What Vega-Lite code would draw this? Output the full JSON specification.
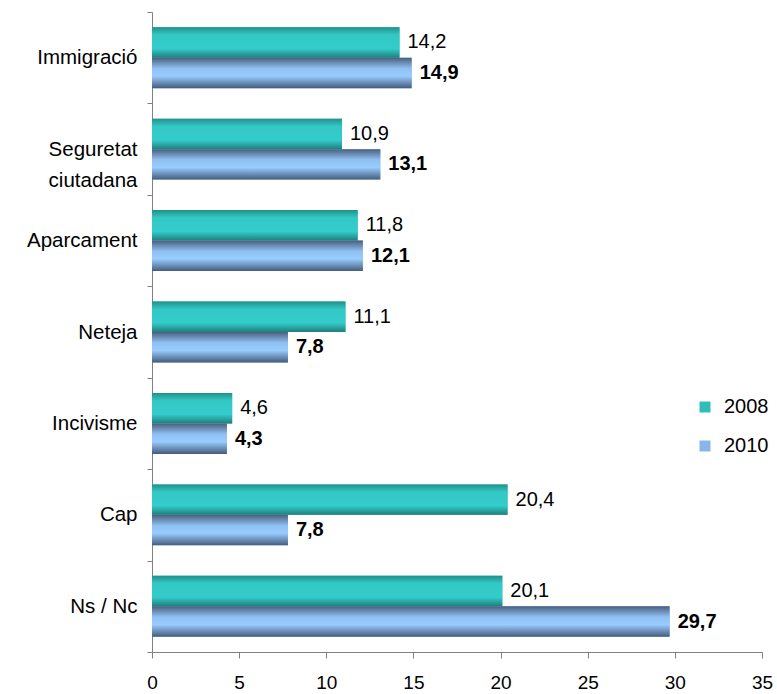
{
  "$schema": "https://vega.github.io/schema/vega-lite/v6.json",
  "width": 610,
  "height": 640,
  "autosize": {"type": "none"},
  "padding": {"left": 152, "top": 12, "right": 15, "bottom": 42},
  "background": "white",
  "config": {
    "font": "Liberation Sans",
    "view": {"stroke": null},
    "locale": {"number": {"decimal": ",", "thousands": ".", "grouping": [3], "currency": ["", " €"]}}
  },
  "data": {
    "values": [
      {"tema": "Immigració", "any": "2008", "valor": 14.2},
      {"tema": "Immigració", "any": "2010", "valor": 14.9},
      {"tema": "Seguretat ciutadana", "any": "2008", "valor": 10.9},
      {"tema": "Seguretat ciutadana", "any": "2010", "valor": 13.1},
      {"tema": "Aparcament", "any": "2008", "valor": 11.8},
      {"tema": "Aparcament", "any": "2010", "valor": 12.1},
      {"tema": "Neteja", "any": "2008", "valor": 11.1},
      {"tema": "Neteja", "any": "2010", "valor": 7.8},
      {"tema": "Incivisme", "any": "2008", "valor": 4.6},
      {"tema": "Incivisme", "any": "2010", "valor": 4.3},
      {"tema": "Cap", "any": "2008", "valor": 20.4},
      {"tema": "Cap", "any": "2010", "valor": 7.8},
      {"tema": "Ns / Nc", "any": "2008", "valor": 20.1},
      {"tema": "Ns / Nc", "any": "2010", "valor": 29.7}
    ]
  },
  "encoding": {
    "y": {
      "field": "tema",
      "type": "nominal",
      "sort": null,
      "scale": {"paddingInner": 0, "paddingOuter": 0},
      "axis": {
        "title": null,
        "tickBand": "extent",
        "tickSize": 5,
        "tickColor": "#808080",
        "domainColor": "#808080",
        "labelFontSize": 20.5,
        "labelColor": "black",
        "labelPadding": 10,
        "labelLineHeight": 31,
        "labelExpr": "datum.value == 'Seguretat ciutadana' ? ['Seguretat', 'ciutadana'] : (datum.value == 'Ns / Nc' ? 'Ns / Nc\u2002' : datum.value)"
      }
    },
    "yOffset": {"field": "any", "type": "nominal", "scale": {"paddingInner": 0, "paddingOuter": 0.5}},
    "x": {
      "field": "valor",
      "type": "quantitative",
      "scale": {"domain": [0, 35], "nice": false},
      "axis": {
        "title": null,
        "values": [0, 5, 10, 15, 20, 25, 30, 35],
        "grid": false,
        "tickSize": 6,
        "tickColor": "#808080",
        "domainColor": "#808080",
        "labelFontSize": 19,
        "labelColor": "black",
        "labelPadding": 15,
        "labelFlush": false
      }
    }
  },
  "layer": [
    {
      "mark": {"type": "bar"},
      "encoding": {
        "color": {
          "field": "any",
          "type": "nominal",
          "scale": {"domain": ["2008", "2010"], "range": ["#2fbdb9", "#88b6e6"]},
          "legend": {
            "title": null,
            "orient": "none",
            "legendX": 543,
            "legendY": 385,
            "symbolType": "square",
            "symbolSize": 121,
            "symbolStrokeWidth": 0,
            "labelFontSize": 20,
            "labelColor": "black",
            "rowPadding": 19,
            "labelOffset": 9
          }
        }
      }
    },
    {
      "transform": [{"filter": "datum.any == '2008'"}],
      "mark": {
        "type": "bar",
        "color": {
          "gradient": "linear", "x1": 0, "y1": 0, "x2": 0, "y2": 1,
          "stops": [
            {"offset": 0, "color": "#21908a"},
            {"offset": 0.25, "color": "#33c8c4"},
            {"offset": 0.7, "color": "#33cccc"},
            {"offset": 1, "color": "#1f7f7a"}
          ]
        }
      }
    },
    {
      "transform": [{"filter": "datum.any == '2010'"}],
      "mark": {
        "type": "bar",
        "color": {
          "gradient": "linear", "x1": 0, "y1": 0, "x2": 0, "y2": 1,
          "stops": [
            {"offset": 0, "color": "#4a5f7e"},
            {"offset": 0.35, "color": "#8fc0f2"},
            {"offset": 0.6, "color": "#99ccff"},
            {"offset": 1, "color": "#445c7c"}
          ]
        }
      }
    },
    {
      "transform": [{"filter": "datum.any == '2008'"}],
      "mark": {"type": "text", "align": "left", "baseline": "middle", "dx": 8, "fontSize": 20, "color": "black"},
      "encoding": {"text": {"field": "valor", "type": "quantitative", "format": ".1f"}}
    },
    {
      "transform": [{"filter": "datum.any == '2010'"}],
      "mark": {"type": "text", "align": "left", "baseline": "middle", "dx": 8, "fontSize": 20, "fontWeight": "bold", "color": "black"},
      "encoding": {"text": {"field": "valor", "type": "quantitative", "format": ".1f"}}
    }
  ]
}
